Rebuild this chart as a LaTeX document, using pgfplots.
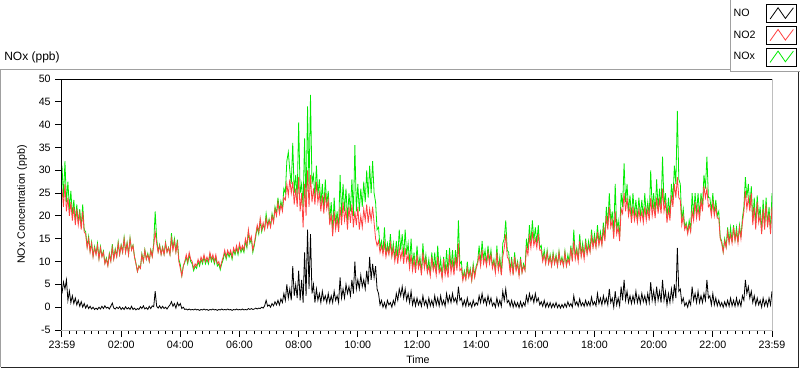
\documentclass[border=0pt]{standalone}
\usepackage{fontspec}
\setmainfont{Liberation Sans}
\usepackage{pgfplots}
\pgfplotsset{compat=1.18}
\definecolor{noxgreen}{RGB}{0,235,0}
\definecolor{no2red}{RGB}{255,64,64}
\definecolor{framegray}{RGB}{160,160,160}
\definecolor{plotgray}{RGB}{190,190,190}
\begin{document}
\begin{tikzpicture}
\begin{scope}[x=0.75pt,y=0.75pt]
\path[use as bounding box] (0,0) rectangle (800,369);
\draw[framegray, line width=0.75pt] (0.5,2) -- (0.5,299.5) -- (799,299.5);
\draw[black!85, line width=0.75pt] (0.5,1.5) -- (798.5,1.5) -- (798.5,299.5);
\node[anchor=west, font=\fontsize{9}{10}\selectfont, inner sep=0pt] at (4,312) {NOx (ppb)};
\fill[white] (730,297) rectangle (800,369);
\draw[framegray, line width=0.75pt] (730.5,369) -- (730.5,297.5) -- (800,297.5);
\end{scope}
\begin{axis}[
  at={(46.5pt,29.25pt)}, anchor=south west,
  scale only axis, width=532.5pt, height=188.25pt,
  xmin=0, xmax=24, ymin=-5, ymax=50,
  xtick={0,2,...,24},
  xticklabels={23:59,02:00,04:00,06:00,08:00,10:00,12:00,14:00,16:00,18:00,20:00,22:00,23:59},
  minor x tick num=7,
  ytick={-5,0,...,50},
  tick align=outside, xtick pos=bottom, ytick pos=left,
  major tick length=5pt, minor tick length=3pt,
  tick style={black, line width=0.75pt},
  axis line style={plotgray, line width=0.75pt},
  /pgf/number format/assume math mode=true,
  ticklabel style={font=\fontsize{8}{9}\selectfont},
  xlabel={Time}, ylabel={NOx Concentration (ppb)},
  label style={font=\fontsize{8}{9}\selectfont},
  xlabel style={at={(axis description cs:0.5014,-0.1195)},anchor=center},
  ylabel style={at={(axis description cs:-0.0563,0.5)},anchor=center},
  clip mode=individual,
  reverse legend,
  legend plot pos=right,
  legend cell align=left,
  legend style={at={(axis description cs:1.0359,1.2988)}, anchor=north east,
    draw=none, fill=none, inner sep=0pt, font=\fontsize{8}{9}\selectfont,
    row sep=2pt, column sep=6pt},
  legend image code/.code={
    \draw[black,fill=white,line width=0.75pt,solid] (0pt,-6.75pt) rectangle (22.5pt,6.75pt);
    \draw[#1,line width=0.6pt] (2.5pt,-4pt) -- (8.5pt,4.5pt) -- (14pt,-3.5pt) -- (20pt,4.5pt);
  },
]
\addplot[noxgreen, line width=0.6pt] coordinates {
(0,31)(0.05,24)(0.1,32)(0.15,23)(0.2,27.5)(0.25,21.5)(0.3,25.5)(0.35,20)(0.4,23.5)(0.45,19)
(0.5,22.5)(0.55,18.5)(0.6,21.5)(0.65,17.5)(0.7,22.5)(0.75,17)(0.8,16.5)(0.85,13.3)(0.9,15.5)(0.95,12.3)
(1,14.3)(1.05,11.2)(1.1,13.3)(1.15,11.7)(1.2,14)(1.25,10.7)(1.3,13.3)(1.35,11.2)(1.4,12.3)(1.45,9.7)
(1.5,10.8)(1.55,9.2)(1.6,11.8)(1.65,10.2)(1.7,13.8)(1.75,10.7)(1.8,12.8)(1.85,11.2)(1.9,14.3)(1.95,11.6)
(2,13.7)(2.05,12.1)(2.1,15.3)(2.15,12.1)(2.2,14.2)(2.25,11.6)(2.3,15.2)(2.35,12.6)(2.4,13.6)(2.45,11.1)
(2.5,9.6)(2.55,7.8)(2.6,9.1)(2.65,8.5)(2.7,11.7)(2.75,10)(2.8,12.6)(2.85,10.5)(2.9,11.8)(2.95,10.1)
(3,12.6)(3.05,11.2)(3.1,14)(3.15,21)(3.2,15)(3.25,12.2)(3.3,13.7)(3.35,11.6)(3.4,13.2)(3.45,11.6)
(3.5,14.2)(3.55,12.1)(3.6,13.1)(3.65,11.6)(3.7,16.2)(3.75,12.8)(3.8,15)(3.85,12.2)(3.9,14.8)(3.95,10.5)
(4,9.3)(4.05,6.9)(4.1,9)(4.15,9.8)(4.2,11)(4.25,9.5)(4.3,11.5)(4.35,10)(4.4,9.5)(4.45,8)
(4.5,9)(4.55,8.5)(4.6,10)(4.65,9)(4.7,10.5)(4.75,9.5)(4.8,11)(4.85,9.5)(4.9,10.5)(4.95,9.5)
(5,11.5)(5.05,10)(5.1,11)(5.15,9.5)(5.2,11)(5.25,9)(5.3,9.5)(5.35,8.2)(5.4,9.5)(5.45,10.5)
(5.5,12)(5.55,10.5)(5.6,12)(5.65,11)(5.7,12)(5.75,10.5)(5.8,12.5)(5.85,11.5)(5.9,13)(5.95,11.5)
(6,13.5)(6.05,12)(6.1,13)(6.15,12)(6.2,14.5)(6.25,13)(6.3,16.5)(6.35,14)(6.4,15)(6.45,12)
(6.5,13.5)(6.55,15.5)(6.6,17.5)(6.65,16)(6.7,19)(6.75,16.5)(6.8,18)(6.85,17.2)(6.9,20.5)(6.95,17.8)
(7,19.3)(7.05,17.8)(7.1,20.5)(7.15,18.8)(7.2,22)(7.25,20.5)(7.3,24)(7.35,21)(7.4,23.2)(7.45,21.5)
(7.5,26)(7.55,25)(7.6,32)(7.65,34)(7.7,30)(7.75,27)(7.8,36)(7.85,25)(7.9,29)(7.95,24)
(8,40.5)(8.05,25)(8.1,27)(8.15,22)(8.2,37)(8.25,22)(8.3,44)(8.35,26)(8.4,46.5)(8.45,27)
(8.5,29)(8.55,24)(8.6,31)(8.65,24.5)(8.7,28)(8.75,22.5)(8.8,27)(8.85,21.5)(8.9,28)(8.95,22.5)
(9,25.5)(9.05,19)(9.1,23)(9.15,16.5)(9.2,24)(9.25,18)(9.3,21)(9.35,17)(9.4,29)(9.45,20)
(9.5,27)(9.55,21)(9.6,26)(9.65,19)(9.7,25)(9.75,21)(9.8,28)(9.85,20)(9.9,35.5)(9.95,21)
(10,27)(10.05,21)(10.1,26)(10.15,22)(10.2,27.5)(10.25,23)(10.3,30)(10.35,24)(10.4,31)(10.45,25)
(10.5,32)(10.55,25)(10.6,23)(10.65,17)(10.7,17.5)(10.75,13)(10.8,14.5)(10.85,12)(10.9,17.5)(10.95,11.5)
(11,14)(11.05,12)(11.1,16)(11.15,11.5)(11.2,14)(11.25,10.5)(11.3,14.5)(11.35,11)(11.4,17)(11.45,12.5)
(11.5,16)(11.55,11)(11.6,17)(11.65,11.5)(11.7,14)(11.75,9.5)(11.8,15)(11.85,9)(11.9,12)(11.95,8)
(12,13.5)(12.05,9)(12.1,11)(12.15,7.5)(12.2,14)(12.25,9)(12.3,11.5)(12.35,8)(12.4,10.5)(12.45,7)
(12.5,12)(12.55,8.3)(12.6,12)(12.65,7.5)(12.7,13.5)(12.75,8)(12.8,10.5)(12.85,6.5)(12.9,11)(12.95,7.5)
(13,12.5)(13.05,7.5)(13.1,13)(13.15,8.5)(13.2,12.5)(13.25,8)(13.3,12.5)(13.35,9)(13.4,19)(13.45,9.5)
(13.5,10)(13.55,6.3)(13.6,8)(13.65,6.3)(13.7,10)(13.75,6.8)(13.8,8.5)(13.85,6)(13.9,9.5)(13.95,6.8)
(14,9)(14.05,10)(14.1,13.5)(14.15,9.5)(14.2,14.5)(14.25,10.5)(14.3,12.5)(14.35,9.5)(14.4,13.5)(14.45,10)
(14.5,12.5)(14.55,9)(14.6,10.5)(14.65,7.8)(14.7,13.5)(14.75,8.3)(14.8,11)(14.85,7.3)(14.9,14)(14.95,15)
(15,19)(15.05,12.5)(15.1,12)(15.15,8)(15.2,11)(15.25,7.3)(15.3,12)(15.35,8.3)(15.4,10)(15.45,7)
(15.5,11)(15.55,7.7)(15.6,9.5)(15.65,8.3)(15.7,15)(15.75,12.5)(15.8,18)(15.85,14)(15.9,19)(15.95,14.5)
(16,17.5)(16.05,14)(16.1,18)(16.15,13)(16.2,13.5)(16.25,10.5)(16.3,12.5)(16.35,9.8)(16.4,12.5)(16.45,9.7)
(16.5,11.5)(16.55,9.2)(16.6,12)(16.65,9.6)(16.7,11.5)(16.75,9.1)(16.8,12.3)(16.85,9.6)(16.9,11)(16.95,9.1)
(17,12.3)(17.05,9.2)(17.1,11.5)(17.15,9.7)(17.2,13.5)(17.25,10.3)(17.3,17)(17.35,11)(17.4,13)(17.45,10.3)
(17.5,16)(17.55,11.5)(17.6,14)(17.65,11)(17.7,15)(17.75,12)(17.8,14.5)(17.85,12.5)(17.9,17)(17.95,13.5)
(18,16)(18.05,13.5)(18.1,18)(18.15,14)(18.2,16.5)(18.25,14)(18.3,18.5)(18.35,15)(18.4,22)(18.45,18)
(18.5,25)(18.55,18.5)(18.6,21)(18.65,16)(18.7,27)(18.75,17)(18.8,19)(18.85,15.5)(18.9,25)(18.95,22)
(19,31.5)(19.05,23)(19.1,27)(19.15,21)(19.2,24.5)(19.25,19.5)(19.3,25)(19.35,20)(19.4,23.5)(19.45,19.5)
(19.5,24)(19.55,20)(19.6,23.5)(19.65,19.5)(19.7,25)(19.75,20)(19.8,23)(19.85,20)(19.9,30)(19.95,21.5)
(20,25)(20.05,20.5)(20.1,28)(20.15,21.5)(20.2,26)(20.25,21.5)(20.3,33)(20.35,22.5)(20.4,25)(20.45,19.5)
(20.5,24)(20.55,20)(20.6,27)(20.65,23.5)(20.7,31)(20.75,27)(20.8,43)(20.85,28)(20.9,27)(20.95,19)
(21,21.5)(21.05,17.5)(21.1,18.5)(21.15,16.5)(21.2,19)(21.25,17)(21.3,25)(21.35,20)(21.4,25)(21.45,20.5)
(21.5,25)(21.55,20)(21.6,25)(21.65,22)(21.7,29)(21.75,26)(21.8,33)(21.85,24)(21.9,24)(21.95,21)
(22,25)(22.05,20.5)(22.1,23.5)(22.15,20)(22.2,21)(22.25,15.3)(22.3,14.5)(22.35,12.2)(22.4,15)(22.45,13.3)
(22.5,17.5)(22.55,14.3)(22.6,17.5)(22.65,14.3)(22.7,18)(22.75,14.8)(22.8,17.5)(22.85,14.3)(22.9,18)(22.95,15.3)
(23,19.5)(23.05,22)(23.1,28.5)(23.15,24)(23.2,27)(23.25,22)(23.3,26.5)(23.35,19)(23.4,24)(23.45,18)
(23.5,24.5)(23.55,19.5)(23.6,22)(23.65,16.5)(23.7,23.5)(23.75,17.5)(23.8,24)(23.85,18)(23.9,22)(23.95,16.5)(24,25)
};
\addlegendentry{NOx}
\addplot[no2red, line width=0.6pt] coordinates {
(0,26)(0.05,22)(0.1,27)(0.15,21)(0.2,24)(0.25,20)(0.3,23)(0.35,19)(0.4,22)(0.45,18)
(0.5,21.5)(0.55,18)(0.6,20.5)(0.65,17)(0.7,21)(0.75,16.5)(0.8,16)(0.85,13)(0.9,15)(0.95,12)
(1,14)(1.05,11)(1.1,13)(1.15,11.5)(1.2,13.5)(1.25,10.5)(1.3,13)(1.35,11)(1.4,12)(1.45,9.5)
(1.5,10.5)(1.55,9)(1.6,11.5)(1.65,10)(1.7,13)(1.75,10.5)(1.8,12.5)(1.85,11)(1.9,14)(1.95,11.5)
(2,13.5)(2.05,12)(2.1,15)(2.15,12)(2.2,14)(2.25,11.5)(2.3,15)(2.35,12.5)(2.4,13.5)(2.45,11)
(2.5,9.5)(2.55,7.8)(2.6,9)(2.65,8.5)(2.7,11.5)(2.75,10)(2.8,12.5)(2.85,10.5)(2.9,11.5)(2.95,10)
(3,12.5)(3.05,11)(3.1,13.5)(3.15,16.5)(3.2,14)(3.25,12)(3.3,13.5)(3.35,11.5)(3.4,13)(3.45,11.5)
(3.5,14)(3.55,12)(3.6,13)(3.65,11.5)(3.7,15)(3.75,12.5)(3.8,14.5)(3.85,12)(3.9,14)(3.95,10)
(4,8.5)(4.05,6.8)(4.1,9)(4.15,10)(4.2,11.5)(4.25,10)(4.3,12)(4.35,10.5)(4.4,10)(4.45,8.5)
(4.5,9.5)(4.55,9)(4.6,10.5)(4.65,9.5)(4.7,11)(4.75,10)(4.8,11.5)(4.85,10)(4.9,11)(4.95,10)
(5,12)(5.05,10.5)(5.1,11.5)(5.15,10)(5.2,11.5)(5.25,9.5)(5.3,10)(5.35,8.7)(5.4,10)(5.45,11)
(5.5,12.5)(5.55,11)(5.6,12.5)(5.65,11.5)(5.7,12.5)(5.75,11)(5.8,13)(5.85,12)(5.9,13.5)(5.95,12)
(6,14)(6.05,12.5)(6.1,13.5)(6.15,12.5)(6.2,15)(6.25,13.5)(6.3,17)(6.35,14.5)(6.4,15.5)(6.45,12.5)
(6.5,14)(6.55,16)(6.6,18)(6.65,16.5)(6.7,19.5)(6.75,17)(6.8,18.5)(6.85,17)(6.9,19.5)(6.95,17.5)
(7,19)(7.05,17.5)(7.1,20)(7.15,18.5)(7.2,21.5)(7.25,20)(7.3,23)(7.35,20.5)(7.4,22.5)(7.45,21)
(7.5,24)(7.55,23.5)(7.6,27)(7.65,24.5)(7.7,28)(7.75,25)(7.8,27.5)(7.85,22.5)(7.9,26)(7.95,22)
(8,28.5)(8.05,21)(8.1,25)(8.15,17.5)(8.2,27)(8.25,20)(8.3,30)(8.35,22)(8.4,29)(8.45,23)
(8.5,26)(8.55,22.5)(8.6,27.5)(8.65,23)(8.7,25)(8.75,21)(8.8,24.5)(8.85,20.5)(8.9,25)(8.95,21.5)
(9,23.5)(9.05,18)(9.1,20.5)(9.15,15.5)(9.2,21)(9.25,17)(9.3,19.5)(9.35,16.5)(9.4,22)(9.45,18)
(9.5,23)(9.55,19)(9.6,21.5)(9.65,17)(9.7,22)(9.75,18.5)(9.8,22.5)(9.85,17.5)(9.9,21)(9.95,18)
(10,22)(10.05,17)(10.1,20)(10.15,17.5)(10.2,21.5)(10.25,19)(10.3,22.5)(10.35,18.5)(10.4,21.5)(10.45,19)
(10.5,22)(10.55,18.5)(10.6,15)(10.65,13.5)(10.7,14.5)(10.75,12)(10.8,13.5)(10.85,11.5)(10.9,14)(10.95,11)
(11,13)(11.05,11.5)(11.1,14)(11.15,11)(11.2,13)(11.25,10)(11.3,12.5)(11.35,9.5)(11.4,13)(11.45,10.5)
(11.5,12.5)(11.55,9.5)(11.6,13)(11.65,10)(11.7,11.5)(11.75,8.5)(11.8,11.5)(11.85,8)(11.9,10.5)(11.95,7.5)
(12,11.5)(12.05,8.5)(12.1,10)(12.15,7)(12.2,12)(12.25,8.5)(12.3,10.5)(12.35,7.5)(12.4,9)(12.45,6.8)
(12.5,11)(12.55,8)(12.6,9.5)(12.65,7)(12.7,11)(12.75,7.5)(12.8,8.5)(12.85,6.2)(12.9,10.5)(12.95,7)
(13,9)(13.05,6.5)(13.1,11.5)(13.15,7.5)(13.2,10)(13.25,7)(13.3,11)(13.35,8)(13.4,14)(13.45,8)
(13.5,8.5)(13.55,5.8)(13.6,7.5)(13.65,6)(13.7,8.5)(13.75,6.5)(13.8,8)(13.85,5.8)(13.9,8.8)(13.95,6.5)
(14,8.5)(14.05,9.5)(14.1,11.5)(14.15,9)(14.2,12.5)(14.25,9.5)(14.3,11)(14.35,9)(14.4,12)(14.45,9.5)
(14.5,11.5)(14.55,8.5)(14.6,10)(14.65,7.5)(14.7,12)(14.75,8)(14.8,10)(14.85,7)(14.9,11)(14.95,13)
(15,16)(15.05,11)(15.1,10.5)(15.15,7.5)(15.2,10)(15.25,7)(15.3,11)(15.35,8)(15.4,9.5)(15.45,6.8)
(15.5,10.5)(15.55,7.5)(15.6,9)(15.65,8)(15.7,13)(15.75,11.5)(15.8,15.5)(15.85,13)(15.9,16.5)(15.95,13.5)
(16,15)(16.05,13)(16.1,16)(16.15,12.5)(16.2,12.5)(16.25,10)(16.3,11.5)(16.35,9.5)(16.4,12)(16.45,9.5)
(16.5,11)(16.55,9)(16.6,11.5)(16.65,9.5)(16.7,11)(16.75,9)(16.8,12)(16.85,9.5)(16.9,10.5)(16.95,9)
(17,12)(17.05,9)(17.1,10.5)(17.15,9.5)(17.2,13)(17.25,10)(17.3,14.5)(17.35,10.5)(17.4,12.5)(17.45,10)
(17.5,14.5)(17.55,11)(17.6,13)(17.65,10.5)(17.7,14)(17.75,11.5)(17.8,13.5)(17.85,12)(17.9,15.5)(17.95,13)
(18,15)(18.05,13)(18.1,16.5)(18.15,13.5)(18.2,15.5)(18.25,13.5)(18.3,17)(18.35,14.5)(18.4,20)(18.45,17)
(18.5,22)(18.55,17.5)(18.6,19)(18.65,15)(18.7,21)(18.75,16)(18.8,17.5)(18.85,14.5)(18.9,21.5)(18.95,20.5)
(19,25)(19.05,21)(19.1,24)(19.15,20)(19.2,22)(19.25,18.5)(19.3,22)(19.35,19)(19.4,21)(19.45,18.5)
(19.5,21.5)(19.55,19)(19.6,21)(19.65,18.5)(19.7,22)(19.75,19)(19.8,21.5)(19.85,19)(19.9,24)(19.95,20)
(20,22.5)(20.05,19.5)(20.1,24)(20.15,20.5)(20.2,23.5)(20.25,20.5)(20.3,26)(20.35,21)(20.4,23)(20.45,18.5)
(20.5,21.5)(20.55,19)(20.6,24.5)(20.65,22)(20.7,27)(20.75,24)(20.8,28.5)(20.85,24)(20.9,23.5)(20.95,18)
(21,20)(21.05,17)(21.1,18)(21.15,16)(21.2,18)(21.25,16.5)(21.3,21)(21.35,19)(21.4,23)(21.45,19.5)
(21.5,22)(21.55,19)(21.6,23.5)(21.65,21)(21.7,26.5)(21.75,24)(21.8,26)(21.85,22)(21.9,22.5)(21.95,20)
(22,23)(22.05,20)(22.1,22)(22.15,19.5)(22.2,19.5)(22.25,15)(22.3,14)(22.35,12)(22.4,14.5)(22.45,13)
(22.5,16.5)(22.55,14)(22.6,16)(22.65,14)(22.7,17.5)(22.75,14.5)(22.8,16.5)(22.85,14)(22.9,17.5)(22.95,15)
(23,18.5)(23.05,21)(23.1,25.5)(23.15,21.5)(23.2,24)(23.25,21)(23.3,25)(23.35,18)(23.4,22)(23.45,17)
(23.5,23)(23.55,18.5)(23.6,20)(23.65,16)(23.7,21.5)(23.75,17)(23.8,22.5)(23.85,17.5)(23.9,20.5)(23.95,16)(24,22)
};
\addlegendentry{NO2}
\addplot[black, line width=0.6pt] coordinates {
(0,3)(0.05,5.5)(0.1,4)(0.15,6)(0.2,1.5)(0.25,3.5)(0.3,1)(0.35,2.5)(0.4,0.8)(0.45,2)
(0.5,0.5)(0.55,1.5)(0.6,0.2)(0.65,1.2)(0.7,0)(0.75,0.8)(0.8,-0.2)(0.85,0.5)(0.9,-0.3)(0.95,0.2)
(1,-0.4)(1.05,0)(1.1,-0.5)(1.15,-0.2)(1.2,-0.5)(1.25,0)(1.3,-0.4)(1.35,0.2)(1.4,-0.3)(1.45,0.3)
(1.5,-0.2)(1.55,0)(1.6,-0.4)(1.65,0.2)(1.7,0.9)(1.75,-0.2)(1.8,-0.4)(1.85,0)(1.9,-0.3)(1.95,0.1)
(2,-0.5)(2.05,-0.1)(2.1,-0.5)(2.15,0.1)(2.2,-0.4)(2.25,-0.1)(2.3,-0.5)(2.35,0.2)(2.4,-0.5)(2.45,-0.2)
(2.5,-0.6)(2.55,-0.3)(2.6,-0.5)(2.65,0.1)(2.7,-0.3)(2.75,0.3)(2.8,-0.4)(2.85,-0.1)(2.9,-0.5)(2.95,0.2)
(3,-0.3)(3.05,0.3)(3.1,0.1)(3.15,3.5)(3.2,0.2)(3.25,-0.2)(3.3,0.3)(3.35,-0.3)(3.4,0.2)(3.45,-0.3)
(3.5,0)(3.55,-0.4)(3.6,0.1)(3.65,0.5)(3.7,1.2)(3.75,0.2)(3.8,0.8)(3.85,-0.2)(3.9,1)(3.95,0.3)
(4,0.8)(4.05,-0.3)(4.1,0)(4.15,-0.5)(4.2,-0.4)(4.25,-0.6)(4.3,-0.4)(4.35,-0.6)(4.4,-0.5)(4.45,-0.6)
(4.5,-0.4)(4.55,-0.6)(4.6,-0.5)(4.65,-0.7)(4.7,-0.5)(4.75,-0.6)(4.8,-0.4)(4.85,-0.6)(4.9,-0.5)(4.95,-0.7)
(5,-0.5)(5.05,-0.6)(5.1,-0.4)(5.15,-0.6)(5.2,-0.5)(5.25,-0.7)(5.3,-0.5)(5.35,-0.6)(5.4,-0.4)(5.45,-0.6)
(5.5,-0.5)(5.55,-0.6)(5.6,-0.4)(5.65,-0.6)(5.7,-0.5)(5.75,-0.7)(5.8,-0.5)(5.85,-0.6)(5.9,-0.4)(5.95,-0.6)
(6,-0.5)(6.05,-0.6)(6.1,-0.4)(6.15,-0.6)(6.2,-0.5)(6.25,-0.6)(6.3,-0.3)(6.35,-0.5)(6.4,-0.3)(6.45,-0.5)
(6.5,-0.4)(6.55,-0.2)(6.6,-0.4)(6.65,-0.2)(6.7,-0.3)(6.75,0)(6.8,-0.2)(6.85,0.3)(6.9,1.5)(6.95,0.2)
(7,0.5)(7.05,0)(7.1,0.8)(7.15,0.3)(7.2,1.2)(7.25,0.5)(7.3,1.5)(7.35,0.5)(7.4,1.8)(7.45,1)
(7.5,3)(7.55,1.5)(7.6,5)(7.65,2)(7.7,4)(7.75,1.5)(7.8,9)(7.85,2.5)(7.9,5)(7.95,2)
(8,8)(8.05,1.5)(8.1,6)(8.15,1)(8.2,12)(8.25,2.5)(8.3,17)(8.35,4)(8.4,16)(8.45,3)
(8.5,5)(8.55,1)(8.6,4)(8.65,1.5)(8.7,3)(8.75,1)(8.8,3.5)(8.85,1.5)(8.9,2.5)(8.95,1)
(9,3)(9.05,1)(9.1,2.5)(9.15,1)(9.2,3.5)(9.25,1.5)(9.3,2.5)(9.35,1)(9.4,6.5)(9.45,2)
(9.5,4)(9.55,2)(9.6,5)(9.65,3)(9.7,4.5)(9.75,2.5)(9.8,6)(9.85,3)(9.9,10)(9.95,4)
(10,6)(10.05,4)(10.1,7)(10.15,4.5)(10.2,6)(10.25,4)(10.3,8)(10.35,5)(10.4,11)(10.45,6)
(10.5,9.5)(10.55,6.5)(10.6,9)(10.65,4)(10.7,3)(10.75,0.5)(10.8,1.5)(10.85,0)(10.9,1)(10.95,-0.2)
(11,1.5)(11.05,0.5)(11.1,1)(11.15,0)(11.2,1.5)(11.25,0.5)(11.3,3)(11.35,1.5)(11.4,4)(11.45,2.5)
(11.5,4.5)(11.55,2)(11.6,4)(11.65,1.5)(11.7,3)(11.75,1)(11.8,3.5)(11.85,0.5)(11.9,2)(11.95,0.3)
(12,2)(12.05,0.5)(12.1,1.5)(12.15,0.2)(12.2,2.5)(12.25,0.5)(12.3,1.5)(12.35,0)(12.4,2)(12.45,0.3)
(12.5,1.5)(12.55,0.2)(12.6,2.5)(12.65,0.5)(12.7,2)(12.75,0.3)(12.8,2.5)(12.85,0.5)(12.9,1.5)(12.95,0.2)
(13,3)(13.05,1)(13.1,2.5)(13.15,1)(13.2,3)(13.25,1.2)(13.3,2)(13.35,0.8)(13.4,4.5)(13.45,1.5)
(13.5,2)(13.55,0.3)(13.6,1.5)(13.65,0.2)(13.7,2)(13.75,0.3)(13.8,1)(13.85,0)(13.9,1.5)(13.95,0.3)
(14,1)(14.05,0.5)(14.1,2.5)(14.15,1)(14.2,3)(14.25,1)(14.3,2)(14.35,0.5)(14.4,2.5)(14.45,0.8)
(14.5,2)(14.55,0.3)(14.6,1)(14.65,0)(14.7,2)(14.75,0.3)(14.8,1.5)(14.85,0.2)(14.9,3.5)(14.95,1.5)
(15,4)(15.05,1)(15.1,1.5)(15.15,0.2)(15.2,1.5)(15.25,0)(15.3,1.2)(15.35,0.1)(15.4,1)(15.45,-0.1)
(15.5,1.2)(15.55,0)(15.6,1)(15.65,0.3)(15.7,2.5)(15.75,1)(15.8,3)(15.85,1.5)(15.9,2.5)(15.95,1)
(16,3)(16.05,1.2)(16.1,2)(16.15,0.5)(16.2,1.2)(16.25,0.2)(16.3,1.5)(16.35,0)(16.4,1)(16.45,0)
(16.5,1)(16.55,-0.1)(16.6,0.8)(16.65,0)(16.7,1)(16.75,-0.1)(16.8,0.6)(16.85,-0.2)(16.9,0.6)(16.95,-0.1)
(17,0.8)(17.05,0)(17.1,1.2)(17.15,0.2)(17.2,0.8)(17.25,0)(17.3,2.5)(17.35,0.5)(17.4,1.2)(17.45,0.2)
(17.5,1.8)(17.55,0.3)(17.6,1)(17.65,0.2)(17.7,1.5)(17.75,0.3)(17.8,1.2)(17.85,0.3)(17.9,2.2)(17.95,0.5)
(18,1.2)(18.05,0.3)(18.1,3)(18.15,0.8)(18.2,2)(18.25,0.5)(18.3,2.5)(18.35,0.8)(18.4,2)(18.45,0.5)
(18.5,4)(18.55,1)(18.6,2)(18.65,0)(18.7,3.5)(18.75,0.5)(18.8,2)(18.85,0.3)(18.9,4.5)(18.95,1.5)
(19,6)(19.05,1.5)(19.1,3.5)(19.15,1)(19.2,2.5)(19.25,0.8)(19.3,2.5)(19.35,1)(19.4,3.5)(19.45,1)
(19.5,2.5)(19.55,0.8)(19.6,3)(19.65,1.2)(19.7,2.5)(19.75,0.8)(19.8,3)(19.85,1)(19.9,5.5)(19.95,1.5)
(20,3.5)(20.05,1)(20.1,4.5)(20.15,1.5)(20.2,3.5)(20.25,1)(20.3,6)(20.35,1.5)(20.4,3.5)(20.45,0.5)
(20.5,3)(20.55,1)(20.6,4)(20.65,1.5)(20.7,5)(20.75,2)(20.8,13)(20.85,3.5)(20.9,4)(20.95,1)
(21,2)(21.05,0.3)(21.1,1)(21.15,0)(21.2,1.5)(21.25,0.5)(21.3,4.5)(21.35,1.5)(21.4,3)(21.45,1)
(21.5,3.5)(21.55,1)(21.6,2.5)(21.65,1)(21.7,3)(21.75,1.5)(21.8,6)(21.85,2)(21.9,2.5)(21.95,0.5)
(22,3)(22.05,0.5)(22.1,2)(22.15,0.3)(22.2,1.5)(22.25,0.2)(22.3,1)(22.35,0)(22.4,1.2)(22.45,0.2)
(22.5,1.5)(22.55,0.2)(22.6,2)(22.65,0.3)(22.7,1.5)(22.75,0.2)(22.8,2)(22.85,0.3)(22.9,1.5)(22.95,0.2)
(23,2.5)(23.05,1.5)(23.1,6)(23.15,3)(23.2,4.5)(23.25,2)(23.3,3.5)(23.35,1)(23.4,2.5)(23.45,0.5)
(23.5,2)(23.55,0.5)(23.6,1.5)(23.65,0)(23.7,2)(23.75,0.3)(23.8,1.5)(23.85,0.2)(23.9,2)(23.95,0.5)(24,3.5)
};
\addlegendentry{NO}
\draw[black, line width=0.75pt] (rel axis cs:0,0) -- (rel axis cs:0,1) -- (rel axis cs:1,1);
\end{axis}
\end{tikzpicture}
\end{document}
